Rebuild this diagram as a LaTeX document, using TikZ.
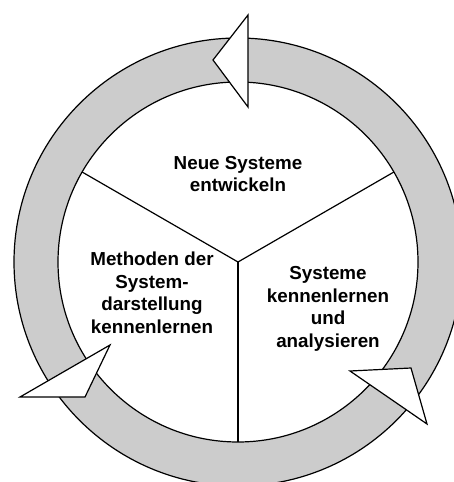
\documentclass[tikz,border=0pt]{standalone}
\usepackage{fontspec}
\setmainfont{Liberation Sans}
\usetikzlibrary{calc}
\definecolor{ringgrey}{HTML}{CCCCCC}

\tikzset{
  ringtext/.style={font=\fontsize{18.8}{22.5}\selectfont\bfseries, align=center},
  arrowtip/.style={draw, fill=white, line join=miter},
}

\begin{document}
\begin{tikzpicture}[x=1pt, y=-1pt, line width=1.2pt]
  \pgfmathsetmacro{\rin}{180}
  \pgfmathsetmacro{\rout}{224}
  \useasboundingbox (0,0) rectangle (454,482);
  \clip (0,0) rectangle (454,482);
  \coordinate (c) at (238,262);

  % ring and inner disc
  \draw[fill=ringgrey] (c) circle[radius=\rout pt];
  \draw[fill=white] (c) circle[radius=\rin pt];

  \foreach \a in {90,210,330}{
    \draw (c) -- ($(c)+(\a:\rin)$);
  };

  \node[ringtext] (neu) at (238,174) {Neue Systeme\\entwickeln};
  \node[ringtext] (meth) at (152,293) {Methoden der\\System-\\darstellung\\kennenlernen};
  \node[ringtext] (ana) at (328,309) {Systeme\\kennenlernen\\und\\analysieren};

  % arrow heads on the ring
  \draw[arrowtip] (248,15) -- (213,60) -- (248,107) -- cycle;
  \draw[arrowtip] (20,397) -- (110,345) -- (85,397) -- cycle;
  \draw[arrowtip] (350,371) -- (411,368) -- (427,424) -- cycle;
\end{tikzpicture}
\end{document}
